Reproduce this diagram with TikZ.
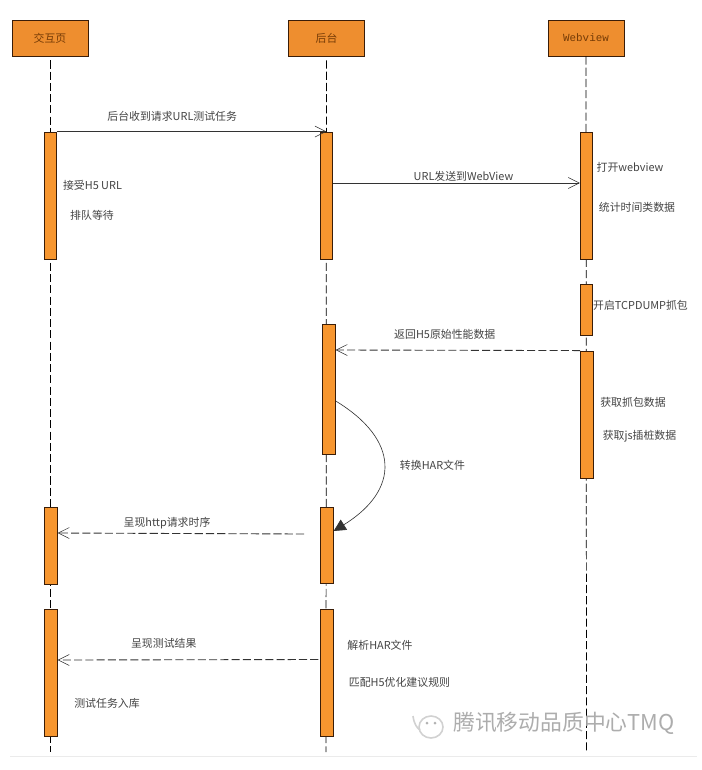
\documentclass[tikz,border=0pt]{standalone}
\usepackage{fontspec}
\setmainfont{Noto Sans CJK SC}
\setmonofont{Liberation Mono}
\usetikzlibrary{arrows.meta}
\definecolor{headfill}{HTML}{EE8E2F}
\definecolor{barfill}{HTML}{F7962F}
\definecolor{edgebrown}{HTML}{3A1D08}
\definecolor{labelgrey}{HTML}{444444}

\begin{document}
\begin{tikzpicture}[
    x=0.02cm, y=-0.02cm,
    actor/.style={draw=edgebrown, fill=headfill, rectangle, line width=0.5pt, minimum width=1.52cm, minimum height=0.72cm, inner sep=0pt, text=edgebrown!70!orange, font=\fontsize{6.2pt}{7pt}\selectfont},
    bar/.style={draw=edgebrown, fill=barfill, rectangle, line width=0.5pt, minimum width=0.25cm, inner sep=0pt},
    lifeline/.style={black, line width=0.42pt, dash pattern=on 4.6pt off 1.8pt},
    msg/.style={black!80, line width=0.35pt, -{Straight Barb[length=0.22cm, width=0.22cm, line width=0.3pt]}},
    reply/.style={black!80, line width=0.5pt, dash pattern=on 4.6pt off 1.8pt, -{Straight Barb[length=0.22cm, width=0.22cm, line width=0.3pt]}},
    note/.style={inner sep=0pt, text=labelgrey, font=\fontsize{6.2pt}{7pt}\selectfont}
]
    \useasboundingbox (0,0) rectangle (702,770);
    \fill[white] (0,0) rectangle (702,770);

    % Heads
    \node[actor] (page) at (50,38) {交互页};
    \node[actor] (server) at (326.5,38) {后台};
    \node[actor, font=\ttfamily\fontsize{6.2pt}{7pt}\selectfont] (view) at (586,38) {Webview};

    % Lifelines
    \coordinate (pageend) at (50,752);
    \coordinate (serverend) at (326,752);
    \coordinate (viewend) at (586.5,752);
    \draw[lifeline] (page.south) ++(0,4) -- (pageend);
    \draw[lifeline] (server.south) ++(0,4) -- (serverend);
    \draw[lifeline] (view.south) -- (viewend);

    % Activation bars
    \node[bar, minimum height=2.54cm] (pagea) at (50.5,195.5) {};
    \node[bar, minimum height=1.54cm] (pageb) at (51,545.5) {};
    \node[bar, minimum height=2.54cm] (pagec) at (51,672.5) {};
    \node[bar, minimum height=2.54cm] (servera) at (326.5,195.5) {};
    \node[bar, minimum height=2.6cm] (serverb) at (329,389) {};
    \node[bar, minimum height=1.52cm] (serverc) at (327,545) {};
    \node[bar, minimum height=2.54cm] (serverd) at (327,672.5) {};
    \node[bar, minimum height=2.54cm] (viewa) at (586.5,195.5) {};
    \node[bar, minimum height=1.02cm] (viewb) at (586.5,309.5) {};
    \node[bar, minimum height=2.54cm] (viewc) at (586.8,414.5) {};

    % Messages
    \draw[msg] (pagea.north east) -- (servera.north) node[note, pos=0.427, yshift=0.30cm] {后台收到请求URL测试任务};
    \draw[msg] (servera.east |- 0,183) -- (viewa.west |- 0,183) node[note, midway, yshift=0.13cm, xshift=0.14cm] {URL发送到WebView};
    \draw[reply] (viewc.north west) -- (serverb.east |- 0,350) node[note, pos=0.48, yshift=0.31cm, xshift=-0.36cm] {返回H5原始性能数据};
    \draw[msg, -{Triangle[length=0.24cm, width=0.24cm]}] (serverb.east |- 0,401) .. controls (400,440) and (400,490) .. (serverc.east |- 0,531);
    \coordinate (httpstart) at (304,534);
    \draw[reply] (httpstart) -- (pageb.east |- 0,533) node[note, pos=0.556, yshift=0.20cm] {呈现http请求时序};
    \draw[reply] (serverd.west |- 0,659.5) ++(-2,0) -- (pagec.east |- 0,660) node[note, pos=0.593, yshift=0.33cm] {呈现测试结果};

    % Notes beside the bars
    \node[note] (accept) at (92.5,185) {接受H5 URL};
    \node[note] (queue) at (92,215.5) {排队等待};
    \node[note] (store) at (107,703) {测试任务入库};
    \node[note] (openview) at (630,167.5) {打开webview};
    \node[note] (timing) at (637,207.5) {统计时间类数据};
    \node[note] (tcpdump) at (640.5,305) {开启TCPDUMP抓包};
    \node[note] (fetchcap) at (633,402) {获取抓包数据};
    \node[note] (fetchjs) at (639.5,436) {获取js插桩数据};
    \node[note] (har) at (432.5,465) {转换HAR文件};
    \node[note] (parse) at (380,645.5) {解析HAR文件};
    \node[note] (match) at (399.5,682.5) {匹配H5优化建议规则};

    % Watermark and rule at the foot
    \coordinate (footl) at (10,756);
    \coordinate (footr) at (697,756);
    \draw[black!8, line width=0.4pt] (footl) -- (footr);
    \node[inner sep=0pt, text=black!32, font=\fontsize{12.4pt}{14pt}\selectfont] (mark) at (564,723) {腾讯移动品质中心TMQ};
    \draw[black!18, line width=0.9pt] (431,727) circle [x radius=12, y radius=11];
    \draw[black!18, line width=0.9pt] (413,716) .. controls (414,724) and (417,728) .. (420,730);
    \fill[black!30] (427,723) circle [radius=1.5] (435,723) circle [radius=1.5];
\end{tikzpicture}
\end{document}
